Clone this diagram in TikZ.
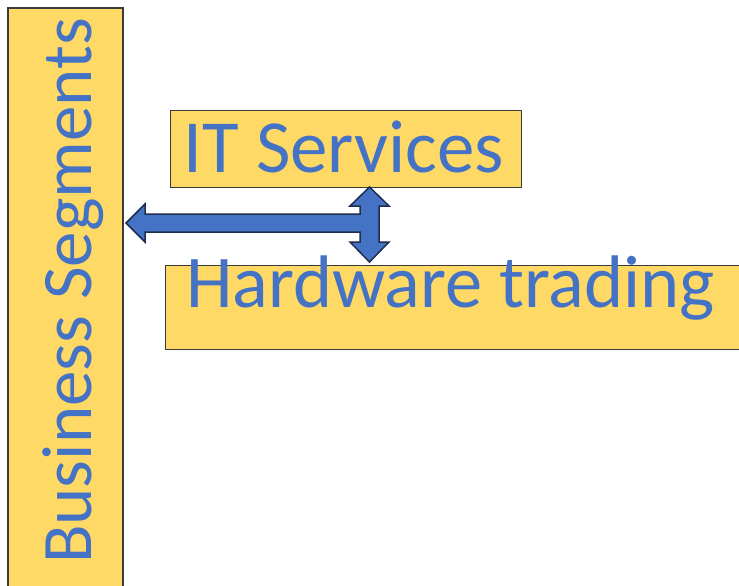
\documentclass[tikz,border=0pt]{standalone}
\usepackage{fontspec}
\setmainfont{Carlito}
\definecolor{boxyellow}{HTML}{FFD966}
\definecolor{txtblue}{HTML}{4472C4}
\definecolor{arrowedge}{HTML}{1F2D4F}
\definecolor{boxedge}{HTML}{3A3A3A}
\tikzset{
  segbox/.style={draw=boxedge, line width=1.2pt, fill=boxyellow},
  bigtext/.style={text=txtblue, inner sep=0pt, anchor=base},
  blockarrow/.style={fill=txtblue, draw=arrowedge, line width=1.5pt, line join=miter}
}
\begin{document}
\begin{tikzpicture}[x=1pt, y=-1pt]
\useasboundingbox (0,0) rectangle (739,586);
% boxes
\path[segbox] (8,8) rectangle (123,600);
\node[segbox, minimum width=351pt, minimum height=77pt, inner sep=0pt, anchor=north west] (it) at (170,110) {};
\node[segbox, minimum width=600pt, minimum height=84pt, inner sep=0pt, anchor=north west] (hw) at (165,265) {};
% texts
\node[bigtext, rotate=90, font=\fontsize{71}{85}\selectfont] (seg) at (91,291) {Business Segments};
\node[bigtext, font=\fontsize{75}{90}\selectfont] (ittext) at (344,172) {IT Services};
\node[bigtext, font=\fontsize{74.5}{89}\selectfont] (hwtext) at (450.5,307) {Hardware trading};
% left-up-down block arrow
\path[blockarrow]
  (126,223) -- (145,204) -- (145,214) -- (360,214) -- (360,206) -- (350,206)
  -- (369.5,187) -- (389,206) -- (379,206) -- (379,242) -- (389,242)
  -- (369.5,262) -- (350,242) -- (360,242) -- (360,232) -- (145,232)
  -- (145,242) -- cycle;
\end{tikzpicture}
\end{document}
